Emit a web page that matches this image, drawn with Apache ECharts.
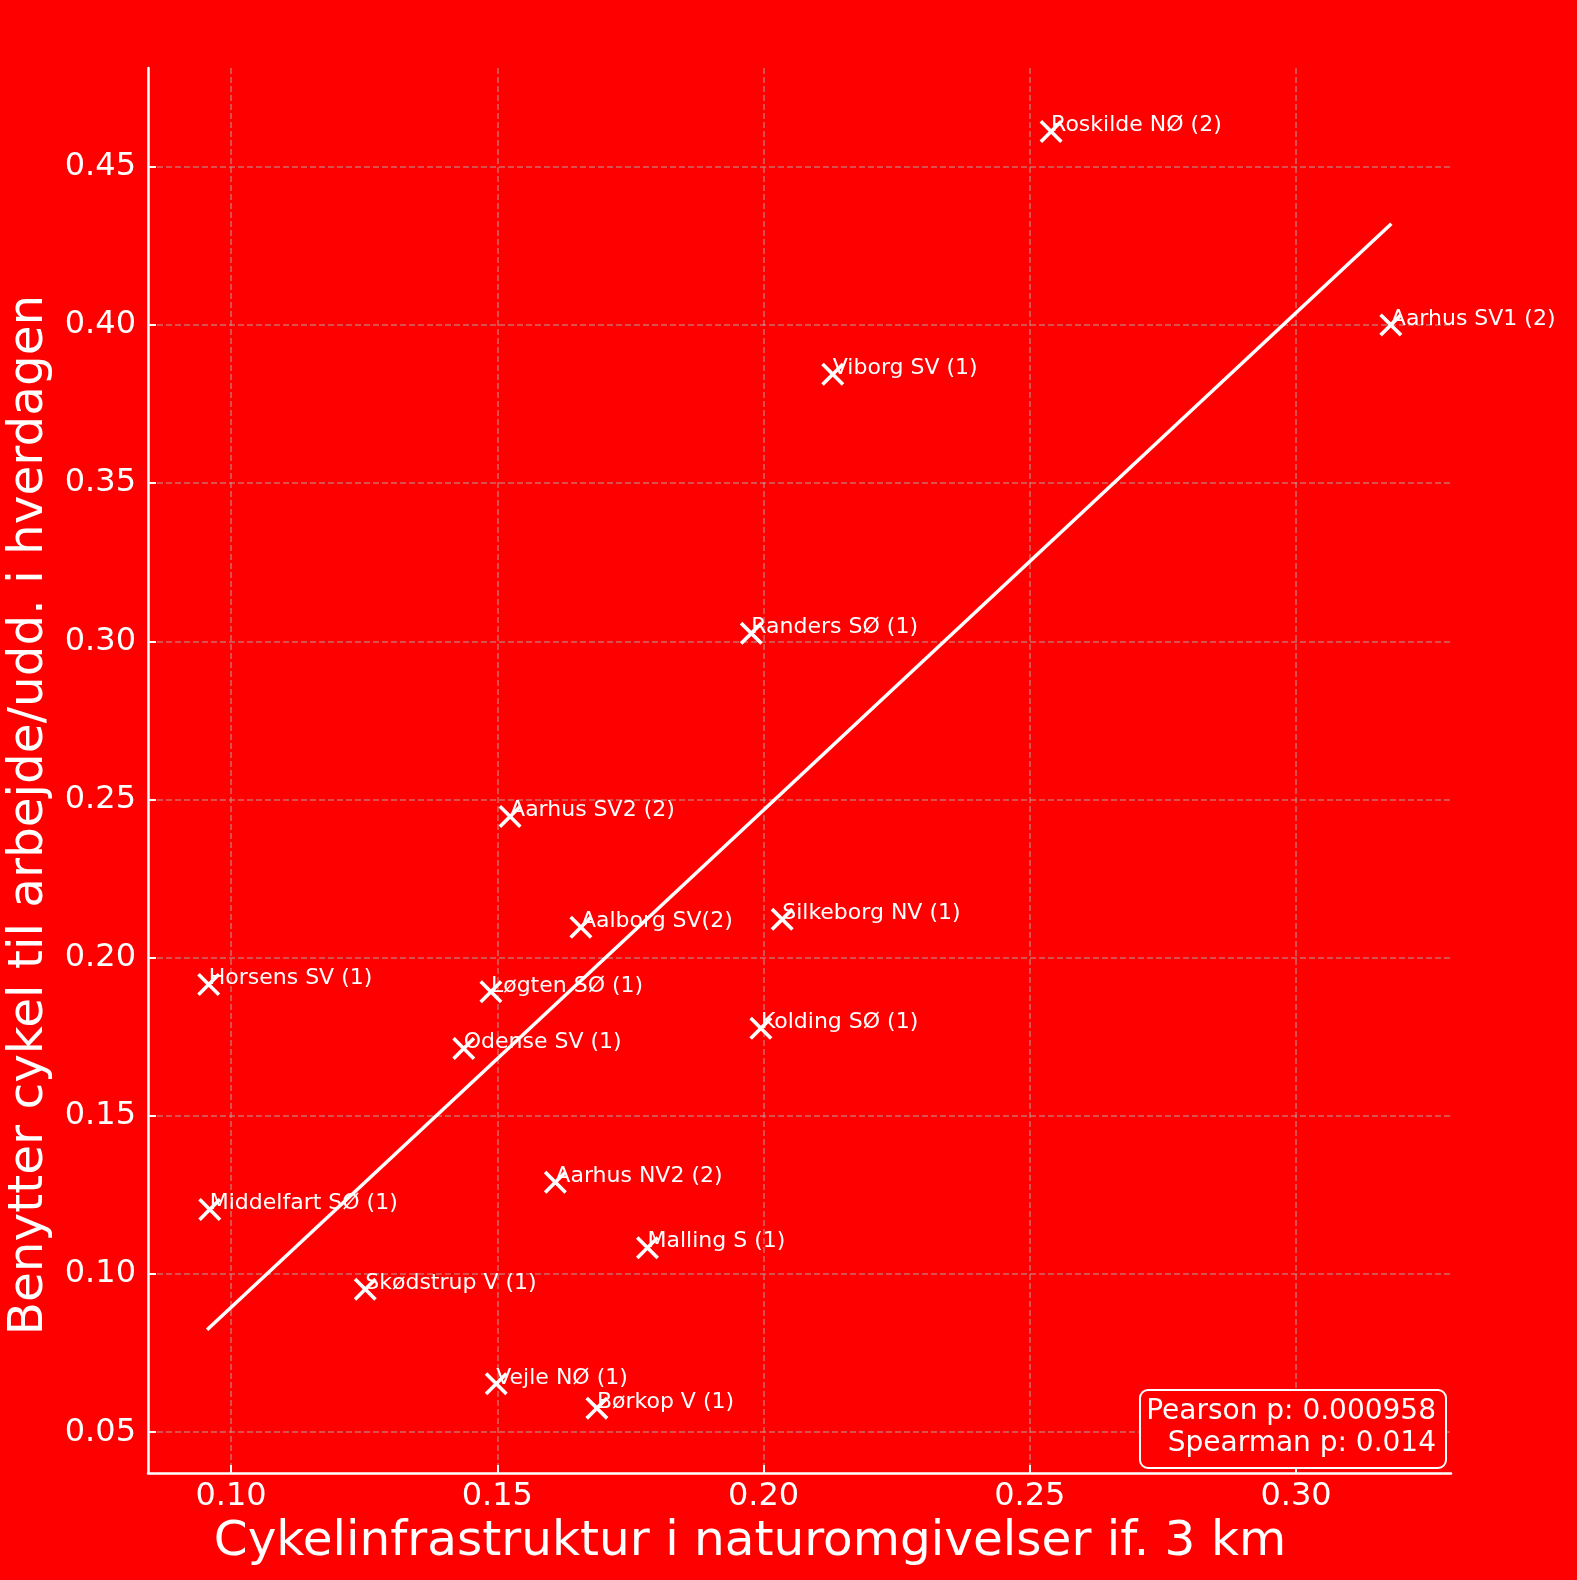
<!DOCTYPE html>
<html>
<head>
<meta charset="utf-8">
<script src="https://cdn.jsdelivr.net/npm/echarts@6/dist/echarts.min.js"></script>
<style>
html,body{margin:0;padding:0;background:#ff0000;}
#chart{width:1577px;height:1580px;}
</style>
</head>
<body>
<div id="chart"></div>
<script>
// ---- data ----
const names = [
  "Roskilde NØ (2)", "Aarhus SV1 (2)", "Viborg SV (1)", "Randers SØ (1)",
  "Aarhus SV2 (2)", "Aalborg SV(2)", "Silkeborg NV (1)", "Horsens SV (1)",
  "Løgten SØ (1)", "Odense SV (1)", "Kolding SØ (1)", "Aarhus NV2 (2)",
  "Middelfart SØ (1)", "Malling S (1)", "Skødstrup V (1)", "Vejle NØ (1)",
  "Børkop V (1)"
];
const infraX = [
  0.2540, 0.3178, 0.2130, 0.1977,
  0.1524, 0.1657, 0.2035, 0.0958,
  0.1488, 0.1437, 0.1995, 0.1609,
  0.0960, 0.1782, 0.1252, 0.1498,
  0.1687
];
const cycleY = [
  0.4611, 0.4000, 0.3844, 0.3025,
  0.2446, 0.2096, 0.2121, 0.1915,
  0.1892, 0.1713, 0.1777, 0.1290,
  0.1204, 0.1083, 0.0952, 0.0653,
  0.0576
];
const fitX = [0.0955, 0.3179];
const fitY = [0.0824, 0.4320];
const xTicks = [0.10, 0.15, 0.20, 0.25, 0.30];
const yTicks = [0.05, 0.10, 0.15, 0.20, 0.25, 0.30, 0.35, 0.40, 0.45];
const statsText = ["Pearson p: 0.000958", "Spearman p: 0.014"];
const xTitle = "Cykelinfrastruktur i naturomgivelser if. 3 km";
const yTitle = "Benytter cykel til arbejde/udd. i hverdagen";

// ---- chart ----
const FONT = "DejaVu Sans";
const gridColor = "rgba(176,176,176,0.6)";
const xMarker = "path://M0,11L11,0L50,39L89,0L100,11L61,50L100,89L89,100L50,61L11,100L0,89L39,50Z";

const scatterData = names.map((n, i) => ({ name: n, value: [infraX[i], cycleY[i]] }));
const fitData = fitX.map((x, i) => [x, fitY[i]]);

const chart = echarts.init(document.getElementById('chart'), null, { renderer: 'canvas' });
chart.setOption({
  backgroundColor: '#ff0000',
  animation: false,
  grid: { left: 148, right: 126, top: 68, bottom: 107, containLabel: false, outerBoundsMode: 'none' },
  xAxis: {
    type: 'value',
    min: 0.0844, max: 0.3291,
    name: xTitle,
    nameLocation: 'middle',
    nameGap: 42,
    nameTextStyle: { color: '#fff', fontSize: 48.5, fontFamily: FONT, padding: [0, 99, 0, 0] },
    axisLine: { show: true, lineStyle: { color: '#fff', width: 2.5 } },
    axisTick: { show: true, inside: true, length: 8, customValues: xTicks, lineStyle: { color: '#fff', width: 2 } },
    axisLabel: { show: true, customValues: xTicks, margin: 8, color: '#fff', fontSize: 32, fontFamily: FONT,
      formatter: v => v.toFixed(2) },
    splitLine: { show: true, lineStyle: { color: gridColor, width: 1.5, type: [6, 3] } }
  },
  yAxis: {
    type: 'value',
    min: 0.0371, max: 0.4812,
    name: yTitle,
    nameLocation: 'middle',
    nameGap: 90,
    nameTextStyle: { color: '#fff', fontSize: 48.5, fontFamily: FONT, padding: [0, 89, 0, 0] },
    axisLine: { show: true, lineStyle: { color: '#fff', width: 2.5 } },
    axisTick: { show: true, inside: true, length: 8, customValues: yTicks, lineStyle: { color: '#fff', width: 2 } },
    axisLabel: { show: true, customValues: yTicks, margin: 12, color: '#fff', fontSize: 32, fontFamily: FONT,
      formatter: v => v.toFixed(2) },
    splitLine: { show: true, lineStyle: { color: gridColor, width: 1.5, type: [6, 3] } }
  },
  series: [
    {
      type: 'line',
      data: fitData,
      symbol: 'none',
      lineStyle: { color: '#fff', width: 3.5 },
      z: 2
    },
    {
      type: 'scatter',
      data: scatterData,
      symbol: xMarker,
      symbolSize: 23,
      itemStyle: { color: '#fff', opacity: 1 },
      label: {
        show: true,
        formatter: '{b}',
        position: [11.5, 5.5],
        align: 'left',
        verticalAlign: 'middle',
        color: '#fff',
        opacity: 1,
        fontSize: 22,
        fontFamily: FONT
      },
      z: 3
    }
  ],
  graphic: [
    {
      type: 'rect',
      z: 10,
      shape: { x: 1140, y: 1390, width: 306, height: 78, r: 8 },
      style: { fill: '#ff0000', stroke: '#fff', lineWidth: 2 }
    },
    {
      type: 'text',
      z: 11,
      x: 1436, y: 1412,
      style: { text: statsText[0], align: 'right', verticalAlign: 'middle', fill: '#fff', fontSize: 28, fontFamily: FONT }
    },
    {
      type: 'text',
      z: 11,
      x: 1436, y: 1444,
      style: { text: statsText[1], align: 'right', verticalAlign: 'middle', fill: '#fff', fontSize: 28, fontFamily: FONT }
    }
  ]
});
</script>
</body>
</html>
